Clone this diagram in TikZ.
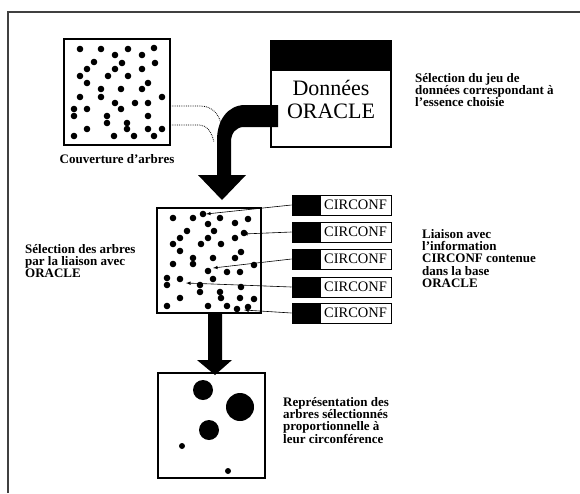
\documentclass[tikz,border=0pt]{standalone}
\usepackage{fontspec}
\setmainfont{Liberation Serif}
\usetikzlibrary{positioning}

\tikzset{
  cadre/.style={draw=black!75, line width=1.5pt},
  boite/.style={draw, line width=1.2pt, inner sep=0pt, minimum width=106pt, minimum height=106pt},
  onglet/.style={draw, fill=black, line width=1pt, inner sep=0pt, minimum width=27pt, minimum height=20pt},
  champ/.style={draw, line width=1pt, inner sep=0pt, minimum width=71pt, minimum height=20pt, font=\fontsize{14.5}{14.5}\selectfont},
  texte/.style={align=left, inner sep=0pt, anchor=north west, font=\fontsize{13}{12.3}\selectfont\bfseries},
  lien/.style={line width=0.6pt, -latex},
  bande/.style={line width=0.8pt, densely dotted}
}

\begin{document}
\begin{tikzpicture}[x=1pt,y=-1pt]
\pgfmathsetmacro{\rdot}{3.3};
\useasboundingbox (0,0) rectangle (580,493);

% cadre
\draw[cadre] (8,493) -- (8,12) -- (580,12);

% couverture d'arbres
\node[boite] (couv) at (117,92) {};
\foreach \x/\y in {80/49,101/49,128/49,154/48,115/55,142/55,94/62,122/63,155/63,
  87/69,115/69,142/69,80/76,108/76,128/76,87/83,148/83,101/89,121/89,142/89,
  101/97,80/97,162/97,115/103,135/103,148/103,74/109,87/109,121/109,74/116,
  107/116,148/116,107/123,127/123,87/129,127/129,148/129,162/129,74/136,
  114/136,134/136,154/136}
  \fill (\x,\y) circle (\rdot pt);
\node[texte, align=center, below=9pt of couv] (couvtxt) {Couverture d'arbres};

% donnees ORACLE
\node[boite, minimum width=120pt] (oracle) at (331,94) {};
\fill (oracle.north west) rectangle ([yshift=-31pt]oracle.north east);
\node[font=\fontsize{22}{23}\selectfont, align=center, inner sep=0pt, anchor=north] (oracletxt) at (331,80) {Données\\ORACLE};
\node[texte] (choix) at (415,73) {Sélection du jeu de\\données correspondant à\\l'essence choisie};

% fleche creuse + fleche noire
\draw[bande] (170,106) -- (200,106) .. controls (212,106) and (219,114) .. (221,124);
\draw[bande] (170,125) -- (200,125) .. controls (207,125) and (212,133) .. (214,142);
\fill (278,105) -- (245,105) .. controls (228,105) and (217,120) .. (217,140)
  -- (217,175) -- (198,175) -- (222,200) -- (246,175) -- (231,175)
  -- (231,142) .. controls (231,133) and (236,127) .. (244,127) -- (278,127) -- cycle;

% selection par liaison
\node[boite, minimum width=104pt, minimum height=105pt] (sel) at (209,260.5) {};
\foreach \x/\y in {173/218,193/218,203/214,220/218,235/223,248/219,208/224,
  187/231,214/231,180/238,208/238,235/238,244/233,173/244,201/244,221/244,
  180/251,241/252,193/258,213/258,235/258,173/264,193/264,254/265,208/271,
  227/272,240/272,167/278,180/279,213/279,167/285,200/285,241/287,200/292,
  220/292,180/298,221/298,240/298,254/299,167/306,208/306,227/306,248/307,237/309}
  \fill (\x,\y) circle (\rdot pt);
\node[texte] (liaison) at (25,244) {Sélection des arbres\\par la liaison avec\\ORACLE};

% champs CIRCONF
\foreach \y [count=\i] in {205,232,259,287,313} {
  \node[onglet] (t\i) at (305.5,\y) {};
  \node[champ, right=0pt of t\i] (c\i) {CIRCONF};
}
\coordinate (s1) at (206,214);
\coordinate (s2) at (243,234);
\coordinate (s3) at (213,268);
\coordinate (s4) at (186,283);
\coordinate (s5) at (244,310);
\foreach \i in {1,...,5}
  \draw[lien] (t\i.west) -- (s\i);
\node[texte] (info) at (422,229) {Liaison avec\\l'information\\CIRCONF contenue\\dans la base\\ORACLE};

% fleche vers la representation
\fill (208,314) -- (222,314) -- (222,360) -- (232,360) -- (215,375)
  -- (197,360) -- (208,360) -- cycle;

% representation
\node[boite, minimum width=107pt, minimum height=105pt] (rep) at (211.5,425.5) {};
\fill (203,390) circle (10pt);
\fill (240,407) circle (14pt);
\fill (209,430) circle (10pt);
\fill (182,446) circle (3pt);
\fill (228,471) circle (3pt);
\node[texte] (repres) at (283,397) {Représentation des\\arbres sélectionnés\\proportionnelle à\\leur circonférence};

\end{tikzpicture}
\end{document}
